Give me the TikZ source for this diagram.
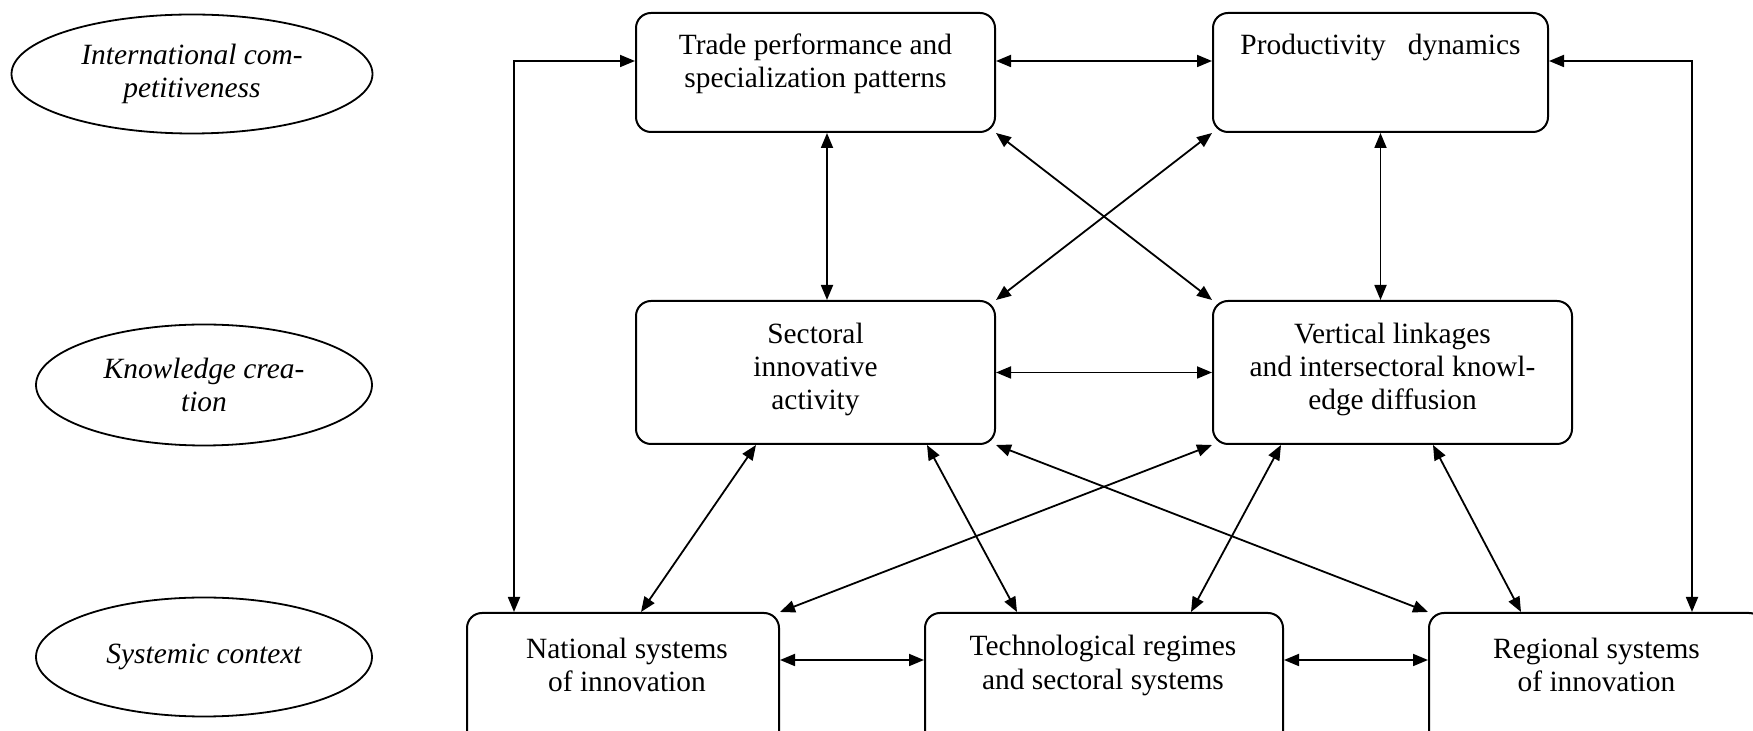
\documentclass[tikz,border=0pt]{standalone}
\usepackage{fontspec}
\setmainfont{Liberation Serif}
\usetikzlibrary{arrows.meta,shapes.geometric}

\tikzset{
  box/.style={draw, rounded corners=7.5pt, line width=1pt, inner sep=0pt},
  boxtext/.style={align=center, inner sep=0pt, font=\fontsize{14.7}{16.6}\selectfont},
  tier/.style={draw, ellipse, line width=0.9pt, inner sep=0pt, align=center,
    font=\fontsize{14.7}{16.6}\selectfont\itshape},
  link/.style={<->, >={Triangle[length=7.5pt,width=6pt]}, line width=0.9pt},
}

\begin{document}
\begin{tikzpicture}[x=0.5pt,y=-0.5pt]
\clip (0,0) rectangle (1753,731);

% levels
\node[tier, minimum width=180.5pt, minimum height=59.5pt] (intl) at (192,74) {International com-\\petitiveness};
\node[tier, minimum width=168pt, minimum height=60.5pt] (know) at (204,385) {Knowledge crea-\\tion};
\node[tier, minimum width=168pt, minimum height=59.5pt] (syst) at (204,657) {Systemic context};

% top row
\node[box, minimum width=179.5pt, minimum height=59.5pt] (trade) at (815.5,72.5) {};
\node[boxtext] (tradetxt) at (815.5,64) {Trade performance and\\specialization patterns};
\node[box, minimum width=167.5pt, minimum height=59.5pt] (prod) at (1380.5,72.5) {};
\node[boxtext] (prodtxt) at (1380.5,47) {Productivity\hspace{0.75em}dynamics};

% middle row
\node[box, minimum width=179.5pt, minimum height=71.5pt] (sect) at (815.5,372.5) {};
\node[boxtext] (secttxt) at (815.5,369.5) {Sectoral\\innovative\\activity};
\node[box, minimum width=179.5pt, minimum height=71.5pt] (vert) at (1392.5,372.5) {};
\node[boxtext] (verttxt) at (1392.5,369.5) {Vertical linkages\\and intersectoral knowl-\\edge diffusion};

% bottom row
\node[box, minimum width=156pt, minimum height=75pt] (nat) at (623,688) {};
\node[boxtext] (nattxt) at (627,665) {National systems\\of innovation};
\node[box, minimum width=179pt, minimum height=75pt] (tech) at (1104,688) {};
\node[boxtext] (techtxt) at (1103,665.5) {Technological regimes\\and sectoral systems};
\node[box, minimum width=167.5pt, minimum height=75pt] (reg) at (1596.5,688) {};
\node[boxtext] (regtxt) at (1596.5,665) {Regional systems\\of innovation};

% links
\draw[link] ([yshift=5.75pt]trade.east) -- ([yshift=5.75pt]prod.west);
\draw[link] ([yshift=5.75pt]trade.west) -| ([xshift=24pt]nat.north west);
\draw[link] ([yshift=5.75pt]prod.east) -| ([xshift=132pt]reg.north west);
\draw[link] ([xshift=5.75pt]trade.south) -- ([xshift=5.75pt]sect.north);
\draw[link] (prod.south) -- (prod.south |- vert.north);
\draw[link] (trade.south east) -- (vert.north west);
\draw[link] (prod.south west) -- (sect.north east);
\draw[link] (sect.east) -- (vert.west);
\draw[link] ([xshift=-29.75pt]sect.south) -- ([xshift=9pt]nat.north);
\draw[link] ([xshift=55.75pt]sect.south) -- ([xshift=-43.5pt]tech.north);
\draw[link] (sect.south east) -- (reg.north west);
\draw[link] (vert.south west) -- (nat.north east);
\draw[link] ([xshift=-55.75pt]vert.south) -- ([xshift=43.5pt]tech.north);
\draw[link] ([xshift=20.25pt]vert.south) -- ([xshift=-37.75pt]reg.north);
\draw[link] ([yshift=-24pt]nat.north east) -- ([yshift=-24pt]tech.north west);
\draw[link] ([yshift=-24pt]tech.north east) -- ([yshift=-24pt]reg.north west);
\end{tikzpicture}
\end{document}
